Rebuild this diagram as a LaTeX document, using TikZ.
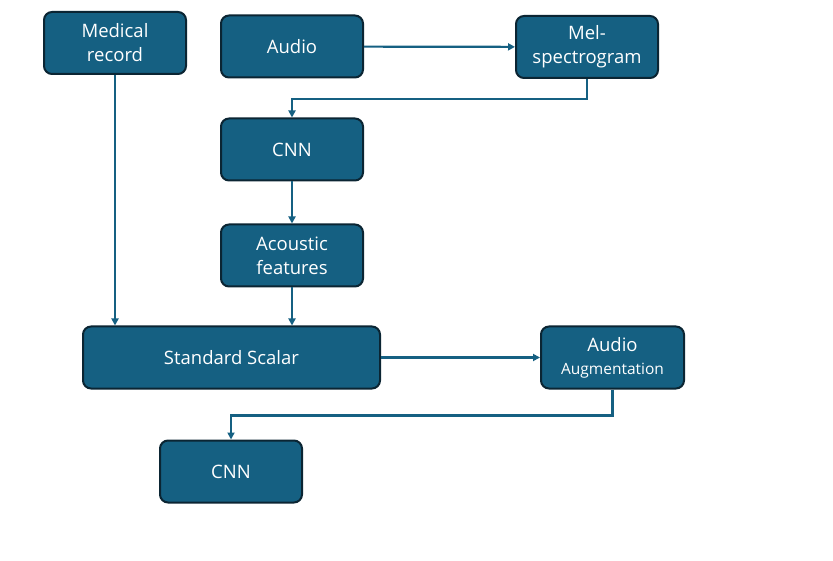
\documentclass[tikz,border=0pt]{standalone}
\usepackage{fontspec}
\setmainfont{Open Sans}
\usepackage{tikz}
\usetikzlibrary{arrows.meta}
\definecolor{boxblue}{HTML}{156082}
\definecolor{boxedge}{HTML}{0B2533}
\tikzset{>={Triangle[length=7pt,width=7pt]}}
\tikzset{
  block/.style={draw=boxedge,line width=2pt,fill=boxblue,rounded corners=8pt,
    text=white,align=center,minimum width=142pt,minimum height=62pt,inner sep=0pt,
    font=\fontsize{18.5}{24}\selectfont},
  conn/.style={draw=boxblue,line width=2.2pt,->}
}

\begin{document}
\begin{tikzpicture}[x=1pt,y=-1pt]
\useasboundingbox (0,0) rectangle (833,561);

% Boxes
\node[block] (med) at (115,43) {Medical\\record};
\node[block] (audio) at (292,46.5) {Audio};
\node[block] (mel) at (587,47) {Mel-\\spectrogram};
\node[block] (cnnA) at (292,149.5) {CNN};
\node[block] (acou) at (292,255.5) {Acoustic\\features};
\node[block,minimum width=297pt] (scal) at (231.5,357.5) {Standard Scalar};
\node[block,minimum width=143pt] (aug) at (612.5,357.5) {Audio\\[-1pt]{\fontsize{15.5}{20}\selectfont Augmentation}};
\node[block] (cnnB) at (231,471.5) {CNN};

% Connectors
\draw[conn] (audio) -- (mel);
\draw[conn] (mel.south) -- ++(0,20) -| (cnnA.north);
\draw[conn] (cnnA) -- (acou);
\draw[conn] (med.south) -- (med.south |- scal.north);
\draw[conn] (acou.south) -- (acou.south |- scal.north);
\draw[conn] (scal) -- (aug);
\draw[conn] (aug.south) -- ++(0,26) -| (cnnB.north);

\end{tikzpicture}
\end{document}
